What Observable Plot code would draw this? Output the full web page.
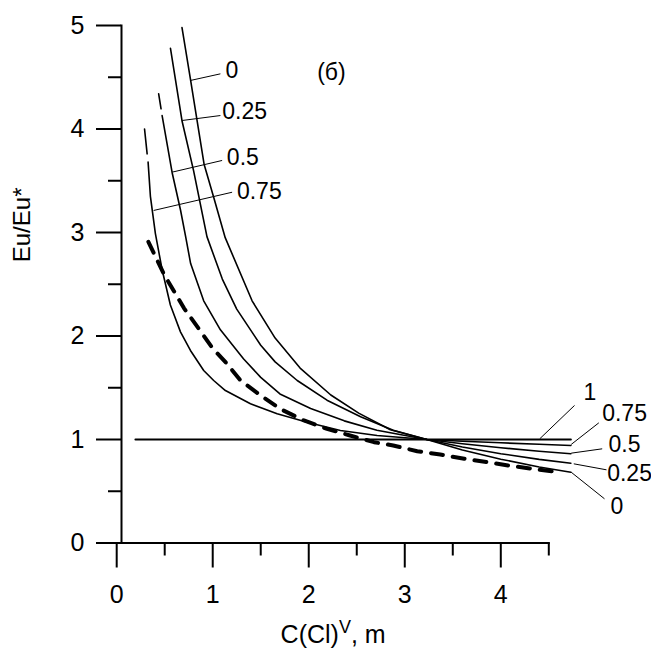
<!DOCTYPE html>
<html>
<head>
<meta charset="utf-8">
<script src="https://cdn.jsdelivr.net/npm/d3@7"></script>
<script src="https://cdn.jsdelivr.net/npm/@observablehq/plot@0.6"></script>
<style>
  html, body { margin: 0; padding: 0; background: #fff; }
  #chart { width: 651px; height: 654px; }
</style>
</head>
<body>
<div id="chart"></div>
<script>
// ---- data ----
// curve "0"
const c0X = [0.68, 0.77, 0.91, 1.01, 1.13, 1.41, 1.65, 1.91, 2.23, 2.52, 2.85, 3.23, 3.6, 4.0, 4.4, 4.73];
const c0Y = [4.98, 4.47, 3.66, 3.34, 2.95, 2.34, 1.98, 1.69, 1.43, 1.255, 1.095, 1.0, 0.898, 0.81, 0.735, 0.684];
// curve "0.25"
const c25X = [0.56, 0.68, 0.80, 0.94, 1.10, 1.25, 1.50, 1.65, 1.88, 2.19, 2.54, 2.88, 3.23, 3.6, 4.0, 4.4, 4.73];
const c25Y = [4.78, 4.08, 3.60, 2.96, 2.55, 2.26, 1.91, 1.75, 1.57, 1.38, 1.22, 1.09, 1.0, 0.928, 0.863, 0.808, 0.771];
// curve "0.5" (short top piece, then main piece)
const c5TopX = [0.437, 0.462];
const c5TopY = [4.34, 4.195];
const c5X = [0.473, 0.577, 0.664, 0.72, 0.77, 0.906, 1.08, 1.32, 1.50, 1.70, 2.02, 2.37, 2.71, 3.23, 3.6, 4.0, 4.4, 4.73];
const c5Y = [4.13, 3.58, 3.22, 2.95, 2.70, 2.34, 2.06, 1.78, 1.60, 1.44, 1.30, 1.18, 1.09, 1.0, 0.959, 0.92, 0.887, 0.862];
// curve "0.75" (short top piece, then main piece)
const c75TopX = [0.290, 0.317];
const c75TopY = [4.00, 3.76];
const c75X = [0.327, 0.351, 0.403, 0.473, 0.559, 0.664, 0.768, 0.906, 1.01, 1.132, 1.393, 1.671, 1.983, 2.33, 2.712, 3.233, 3.6, 4.0, 4.4, 4.73];
const c75Y = [3.68, 3.35, 2.99, 2.64, 2.30, 2.04, 1.86, 1.667, 1.57, 1.473, 1.345, 1.248, 1.167, 1.087, 1.039, 1.0, 0.983, 0.968, 0.954, 0.942];
// curve "1" (flat)
const c1X = [0.195, 4.73];
const c1Y = [1, 1];
// dashed curve
const dashX = [0.33, 0.49, 0.70, 0.87, 1.0, 1.15, 1.29, 1.50, 1.70, 1.95, 2.19, 2.43, 2.68, 2.88, 3.13, 3.37, 3.62, 3.86, 4.08, 4.33, 4.6];
const dashY = [2.91, 2.60, 2.27, 2.05, 1.88, 1.73, 1.57, 1.425, 1.297, 1.184, 1.103, 1.039, 0.974, 0.942, 0.887, 0.855, 0.814, 0.781, 0.749, 0.717, 0.684];

// label texts
const topLabels = ["0", "0.25", "0.5", "0.75"];
const rightLabels = ["1", "0.75", "0.5", "0.25", "0"];
// top label leaders: start on curve, end at label
const topLeadX1 = [0.768, 0.681, 0.577, 0.385];
const topLeadY1 = [4.469, 4.082, 3.583, 3.213];
const topLeadX2 = [1.080, 1.080, 1.098, 1.202];
const topLeadY2 = [4.533, 4.130, 3.696, 3.389];
const topTextX = [1.132, 1.100, 1.147, 1.252];
const topTextY = [4.565, 4.169, 3.725, 3.396];
// right label leaders
const rightLeadX1 = [4.406, 4.733, 4.733, 4.760, 4.733];
const rightLeadY1 = [1.007, 0.952, 0.868, 0.765, 0.684];
const rightLeadX2 = [4.768, 5.021, 5.056, 5.101, 5.080];
const rightLeadY2 = [1.329, 1.161, 0.910, 0.707, 0.427];
const rightTextX = [4.861, 5.056, 5.122, 5.108, 5.143];
const rightTextY = [1.454, 1.251, 0.952, 0.671, 0.353];

const xMajor = [0, 1, 2, 3, 4];
const xMinor = [0.5, 1.5, 2.5, 3.5, 4.5];
const yMajor = [0, 1, 2, 3, 4, 5];
const yMinor = [0.5, 1.5, 2.5, 3.5, 4.5];

const panelLabel = "(б)";
const panelX = 2.236, panelY = 4.546;

// ---- build tables ----
const toRows = (xs, ys, key) => xs.map((x, i) => ({x, y: ys[i], key}));
const solid = [
  ...toRows(c0X, c0Y, "0"),
  ...toRows(c25X, c25Y, "0.25"),
  ...toRows(c5TopX, c5TopY, "0.5top"),
  ...toRows(c5X, c5Y, "0.5"),
  ...toRows(c75TopX, c75TopY, "0.75top"),
  ...toRows(c75X, c75Y, "0.75")
];
const flat = toRows(c1X, c1Y, "1");
const dashed = toRows(dashX, dashY, "dash");
const topLeads = topLabels.map((t, i) => ({t, x1: topLeadX1[i], y1: topLeadY1[i], x2: topLeadX2[i], y2: topLeadY2[i], tx: topTextX[i], ty: topTextY[i]}));
const rightLeads = rightLabels.map((t, i) => ({t, x1: rightLeadX1[i], y1: rightLeadY1[i], x2: rightLeadX2[i], y2: rightLeadY2[i], tx: rightTextX[i], ty: rightTextY[i]}));

const FONT = "'Liberation Sans', Arial, Helvetica, sans-serif";

const chart = Plot.plot({
  width: 651,
  height: 654,
  marginLeft: 121,
  marginRight: 102.7,
  marginTop: 25,
  marginBottom: 111.5,
  style: {fontFamily: FONT, background: "white", color: "black", overflow: "visible"},
  x: {domain: [0.05, 4.5], axis: null},
  y: {domain: [0, 5], axis: null},
  marks: [
    // axis lines
    Plot.frame({anchor: "left", strokeWidth: 2}),
    Plot.frame({anchor: "bottom", strokeWidth: 2}),
    // ticks
    Plot.axisX({ticks: xMajor, tickSize: 25, tickPadding: 17, fontSize: 25, strokeWidth: 2, label: null, tickFormat: d => String(d)}),
    Plot.axisX({ticks: xMinor, tickSize: 13, strokeWidth: 2, text: null, label: null}),
    Plot.axisY({ticks: yMajor, tickSize: 25, tickPadding: 12, fontSize: 25, strokeWidth: 2, label: null, tickFormat: d => String(d)}),
    Plot.axisY({ticks: yMinor, tickSize: 13, strokeWidth: 2, text: null, label: null}),
    // curves
    Plot.line(flat, {x: "x", y: "y", stroke: "black", strokeWidth: 2}),
    Plot.line(solid, {x: "x", y: "y", z: "key", stroke: "black", strokeWidth: 1.6}),
    Plot.line(dashed, {x: "x", y: "y", stroke: "black", strokeWidth: 4, strokeDasharray: "12 10"}),
    // leaders
    Plot.link(topLeads, {x1: "x1", y1: "y1", x2: "x2", y2: "y2", stroke: "black", strokeWidth: 1}),
    Plot.link(rightLeads, {x1: "x1", y1: "y1", x2: "x2", y2: "y2", stroke: "black", strokeWidth: 1}),
    Plot.text(topLeads, {x: "tx", y: "ty", text: "t", textAnchor: "start", fontSize: 23, fill: "black"}),
    Plot.text(rightLeads, {x: "tx", y: "ty", text: "t", textAnchor: "start", fontSize: 23, fill: "black"}),
    Plot.text([panelLabel], {x: () => panelX, y: () => panelY, text: d => d, fontSize: 23, fill: "black"}),
    // axis titles
    Plot.text(["Eu/Eu*"], {frameAnchor: "left", rotate: -90, dx: -99, dy: -22, fontSize: 24, fill: "black"}),
    Plot.text(["C(Cl)V, m"], {frameAnchor: "bottom", dx: -2, dy: 100, fontSize: 25, fill: "black", className: "xlabel"})
  ]
});
document.getElementById("chart").appendChild(chart);

// superscript V in the x-axis title
const xl = chart.querySelector(".xlabel text");
if (xl) {
  const ns = "http://www.w3.org/2000/svg";
  while (xl.firstChild) xl.removeChild(xl.firstChild);
  xl.appendChild(document.createTextNode("C(Cl)"));
  const sup = document.createElementNS(ns, "tspan");
  sup.setAttribute("dy", "-10");
  sup.setAttribute("font-size", "18");
  sup.textContent = "V";
  xl.appendChild(sup);
  const rest = document.createElementNS(ns, "tspan");
  rest.setAttribute("dy", "10");
  rest.textContent = ", m";
  xl.appendChild(rest);
}
</script>
</body>
</html>
